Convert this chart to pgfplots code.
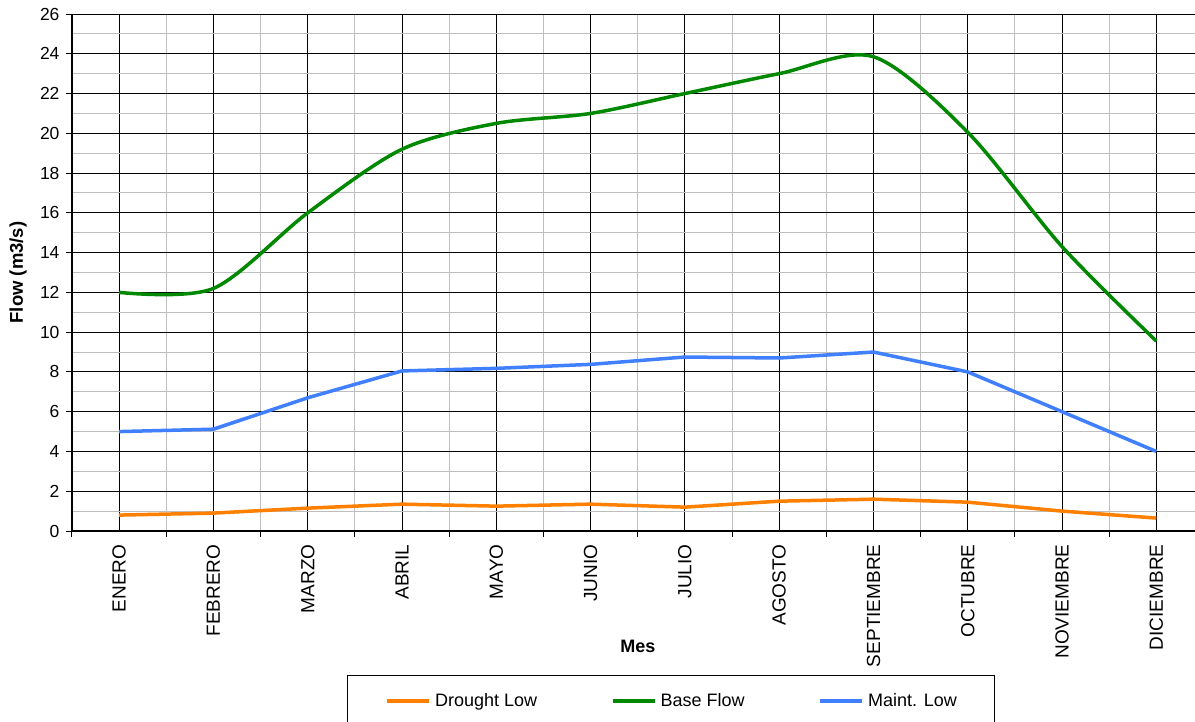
\documentclass[border=0pt]{standalone}
\usepackage{pgfplots}
\pgfplotsset{compat=1.18}
\usepackage{fontspec}
\setmainfont{Liberation Sans}
\definecolor{cOrange}{RGB}{255,128,0}
\definecolor{cGreen}{RGB}{0,136,0}
\definecolor{cBlue}{RGB}{64,128,255}
\definecolor{cGrid}{RGB}{190,190,190}
\begin{document}
\begin{tikzpicture}
\begin{axis}[
  scale only axis,
  width=1123pt, height=517pt,
  xmin=-0.5, xmax=11.41,
  ymin=0, ymax=26,
  axis x line*=bottom, axis y line*=left,
  axis line style={line width=1.5pt},
  xtick={0,...,11},
  xticklabels={ENERO,FEBRERO,MARZO,ABRIL,MAYO,JUNIO,JULIO,AGOSTO,SEPTIEMBRE,OCTUBRE,NOVIEMBRE,DICIEMBRE},
  minor xtick={-0.5,0.5,...,11.5},
  ytick={0,2,...,26},
  minor ytick={1,3,...,25},
  tick align=outside,
  major tick length=6pt, minor tick length=6pt,
  major x tick style={draw=none},
  minor y tick style={draw=none},
  tick style={black, line width=1pt},
  grid=both,
  major grid style={black, line width=1pt},
  minor grid style={cGrid, line width=1pt},
  /pgf/number format/assume math mode=true,
  xticklabel shift=4pt,
  yticklabel shift=3pt,
  xticklabel style={rotate=90, anchor=east, font=\fontsize{19}{22}\selectfont},
  yticklabel style={font=\fontsize{17.5}{20}\selectfont},
  xlabel={\textbf{Mes}},
  ylabel={\textbf{Flow (m3/s)}},
  xlabel style={at={(axis description cs:0.504,-0.2224)}, anchor=center, font=\fontsize{18}{21}\selectfont},
  ylabel style={at={(axis description cs:-0.0481,0.5)}, anchor=center, font=\fontsize{18.5}{21}\selectfont},
  legend columns=3,
  legend style={at={(axis description cs:0.2449,-0.2785)}, anchor=north west,
    draw=black, line width=1pt, fill=white,
    inner xsep=38pt, inner ysep=18pt,
    font=\fontsize{18}{21}\selectfont,
    nodes={inner sep=0pt},
    /tikz/every odd column/.append style={column sep=4pt},
    /tikz/every even column/.append style={column sep=74pt}},
  legend image code/.code={\draw[#1] plot coordinates {(0pt,0pt) (21pt,0pt) (42pt,0pt)};},
]
\addplot[cOrange, line width=3.5pt] coordinates {
(0,0.80) (1,0.90) (2,1.15) (3,1.35) (4,1.25) (5,1.35) (6,1.20) (7,1.50) (8,1.60) (9,1.45) (10,1.00) (11,0.65)};
\addlegendentry{Drought Low}
\addplot[cGreen, line width=3.5pt, smooth, tension=0.5] coordinates {
(0,12.0) (1,12.2) (2,16.0) (3,19.2) (4,20.5) (5,21.0) (6,22.0) (7,23.0) (8,23.85) (9,20.05) (10,14.3) (11,9.55)};
\addlegendentry{Base Flow}
\addplot[cBlue, line width=3.5pt] coordinates {
(0,5.0) (1,5.12) (2,6.7) (3,8.05) (4,8.18) (5,8.38) (6,8.75) (7,8.7) (8,9.0) (9,8.0) (10,6.0) (11,4.0)};
\addlegendentry{Maint. Low}
\end{axis}
\pgfresetboundingbox
\useasboundingbox (-72pt,-190pt) rectangle (1123pt,531pt);
\end{tikzpicture}
\end{document}
